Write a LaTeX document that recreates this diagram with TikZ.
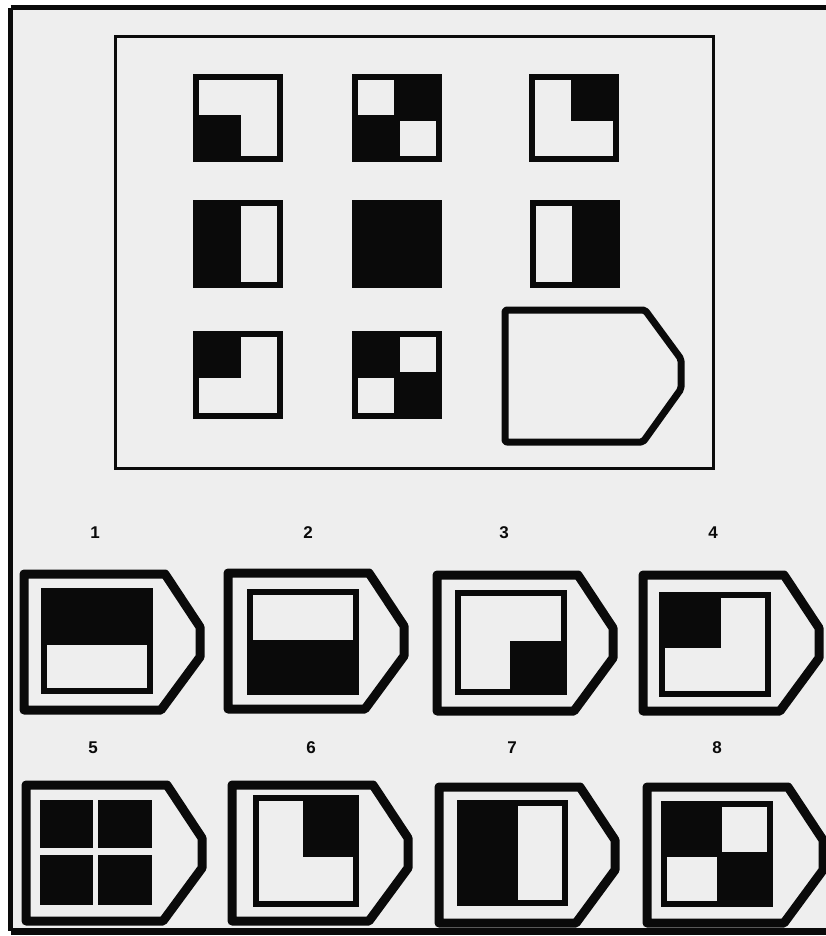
\documentclass[tikz,border=0pt]{standalone}
\usepackage{fontspec}
\setmainfont{Liberation Sans}
\definecolor{bg}{HTML}{EEEEEE}
\definecolor{ink}{HTML}{0A0A0A}
\tikzset{
  blk/.style={fill=ink, draw=none},
  wht/.style={fill=bg, draw=none},
  pent/.style={draw=ink, line width=9, line join=round},
  lbl/.style={font=\fontsize{17}{17}\selectfont\bfseries, text=ink, inner sep=0pt},
}
\begin{document}
\begin{tikzpicture}[x=1pt,y=-1pt]
\useasboundingbox (0,0) rectangle (826,936);
\fill[white] (0,0) rectangle (826,936);
\fill[bg] (10,8) rectangle (826,931);
\draw[ink, line width=5] (10.5,8) -- (840,8);
\draw[ink, line width=5] (10.5,8) -- (10.5,931);
\draw[ink, line width=7] (10.5,931) -- (840,931);
% inner frame
\draw[ink, line width=3] (115,37) rectangle (713,468);
% row 1
\begin{scope}[shift={(193,74)}]
 \fill[blk] (0,0) rectangle (90,88);
 \fill[wht] (6,6) rectangle (84,41);
 \fill[wht] (48,6) rectangle (84,82);
\end{scope}
\begin{scope}[shift={(352,74)}]
 \fill[blk] (0,0) rectangle (90,88);
 \fill[wht] (6,6) rectangle (42,41);
 \fill[wht] (48,47) rectangle (84,82);
\end{scope}
\begin{scope}[shift={(529,74)}]
 \fill[blk] (0,0) rectangle (90,88);
 \fill[wht] (6,6) rectangle (42,82);
 \fill[wht] (6,47) rectangle (84,82);
\end{scope}
% row 2
\begin{scope}[shift={(193,200)}]
 \fill[blk] (0,0) rectangle (90,88);
 \fill[wht] (48,6) rectangle (84,82);
\end{scope}
\begin{scope}[shift={(352,200)}]
 \fill[blk] (0,0) rectangle (90,88);
\end{scope}
\begin{scope}[shift={(530,200)}]
 \fill[blk] (0,0) rectangle (90,88);
 \fill[wht] (6,6) rectangle (42,82);
\end{scope}
% row 3
\begin{scope}[shift={(193,331)}]
 \fill[blk] (0,0) rectangle (90,88);
 \fill[wht] (48,6) rectangle (84,82);
 \fill[wht] (6,47) rectangle (84,82);
\end{scope}
\begin{scope}[shift={(352,331)}]
 \fill[blk] (0,0) rectangle (90,88);
 \fill[wht] (48,6) rectangle (84,41);
 \fill[wht] (6,47) rectangle (42,82);
\end{scope}
% missing piece
\draw[ink, line width=7, line join=round, rounded corners=2] (505,310) -- (645,310) -- (681,359) -- (681,389) -- (643,442) -- (505,442) -- cycle;
% labels
\node[lbl] (l1) at (95,533) {1};
\node[lbl] (l2) at (308,533) {2};
\node[lbl] (l3) at (504,533) {3};
\node[lbl] (l4) at (713,533) {4};
\node[lbl] (l5) at (93,748) {5};
\node[lbl] (l6) at (311,748) {6};
\node[lbl] (l7) at (512,748) {7};
\node[lbl] (l8) at (717,748) {8};
% option outlines
\foreach \ox/\oy in {24/574, 228/573, 437/575, 643/575, 26/785, 232/785, 439/787, 647/787}{
  \draw[pent] (\ox,\oy) -- ++(141,0) -- ++(35,53) -- ++(0,30) -- ++(-39,53) -- ++(-137,0) -- cycle;
}
% option 1
\fill[blk] (41,588) rectangle (153,694);
\fill[wht] (47,645) rectangle (147,688);
% option 2
\fill[blk] (247,589) rectangle (359,695);
\fill[wht] (253,595) rectangle (353,640);
% option 3
\fill[blk] (455,590) rectangle (567,695);
\fill[wht] (461,596) rectangle (561,689);
\fill[blk] (510,641) rectangle (567,695);
% option 4
\fill[blk] (659,592) rectangle (771,697);
\fill[wht] (665,598) rectangle (765,691);
\fill[blk] (659,592) rectangle (721,648);
% option 5
\fill[blk] (40,800) rectangle (93,848);
\fill[blk] (98,800) rectangle (152,848);
\fill[blk] (40,855) rectangle (93,905);
\fill[blk] (98,855) rectangle (152,905);
% option 6
\fill[blk] (253,795) rectangle (359,907);
\fill[wht] (259,801) rectangle (353,901);
\fill[blk] (303,795) rectangle (359,857);
% option 7
\fill[blk] (457,800) rectangle (568,906);
\fill[wht] (518,806) rectangle (562,900);
% option 8
\fill[blk] (661,801) rectangle (773,907);
\fill[wht] (722,807) rectangle (767,852);
\fill[wht] (667,857) rectangle (717,901);
\end{tikzpicture}
\end{document}
